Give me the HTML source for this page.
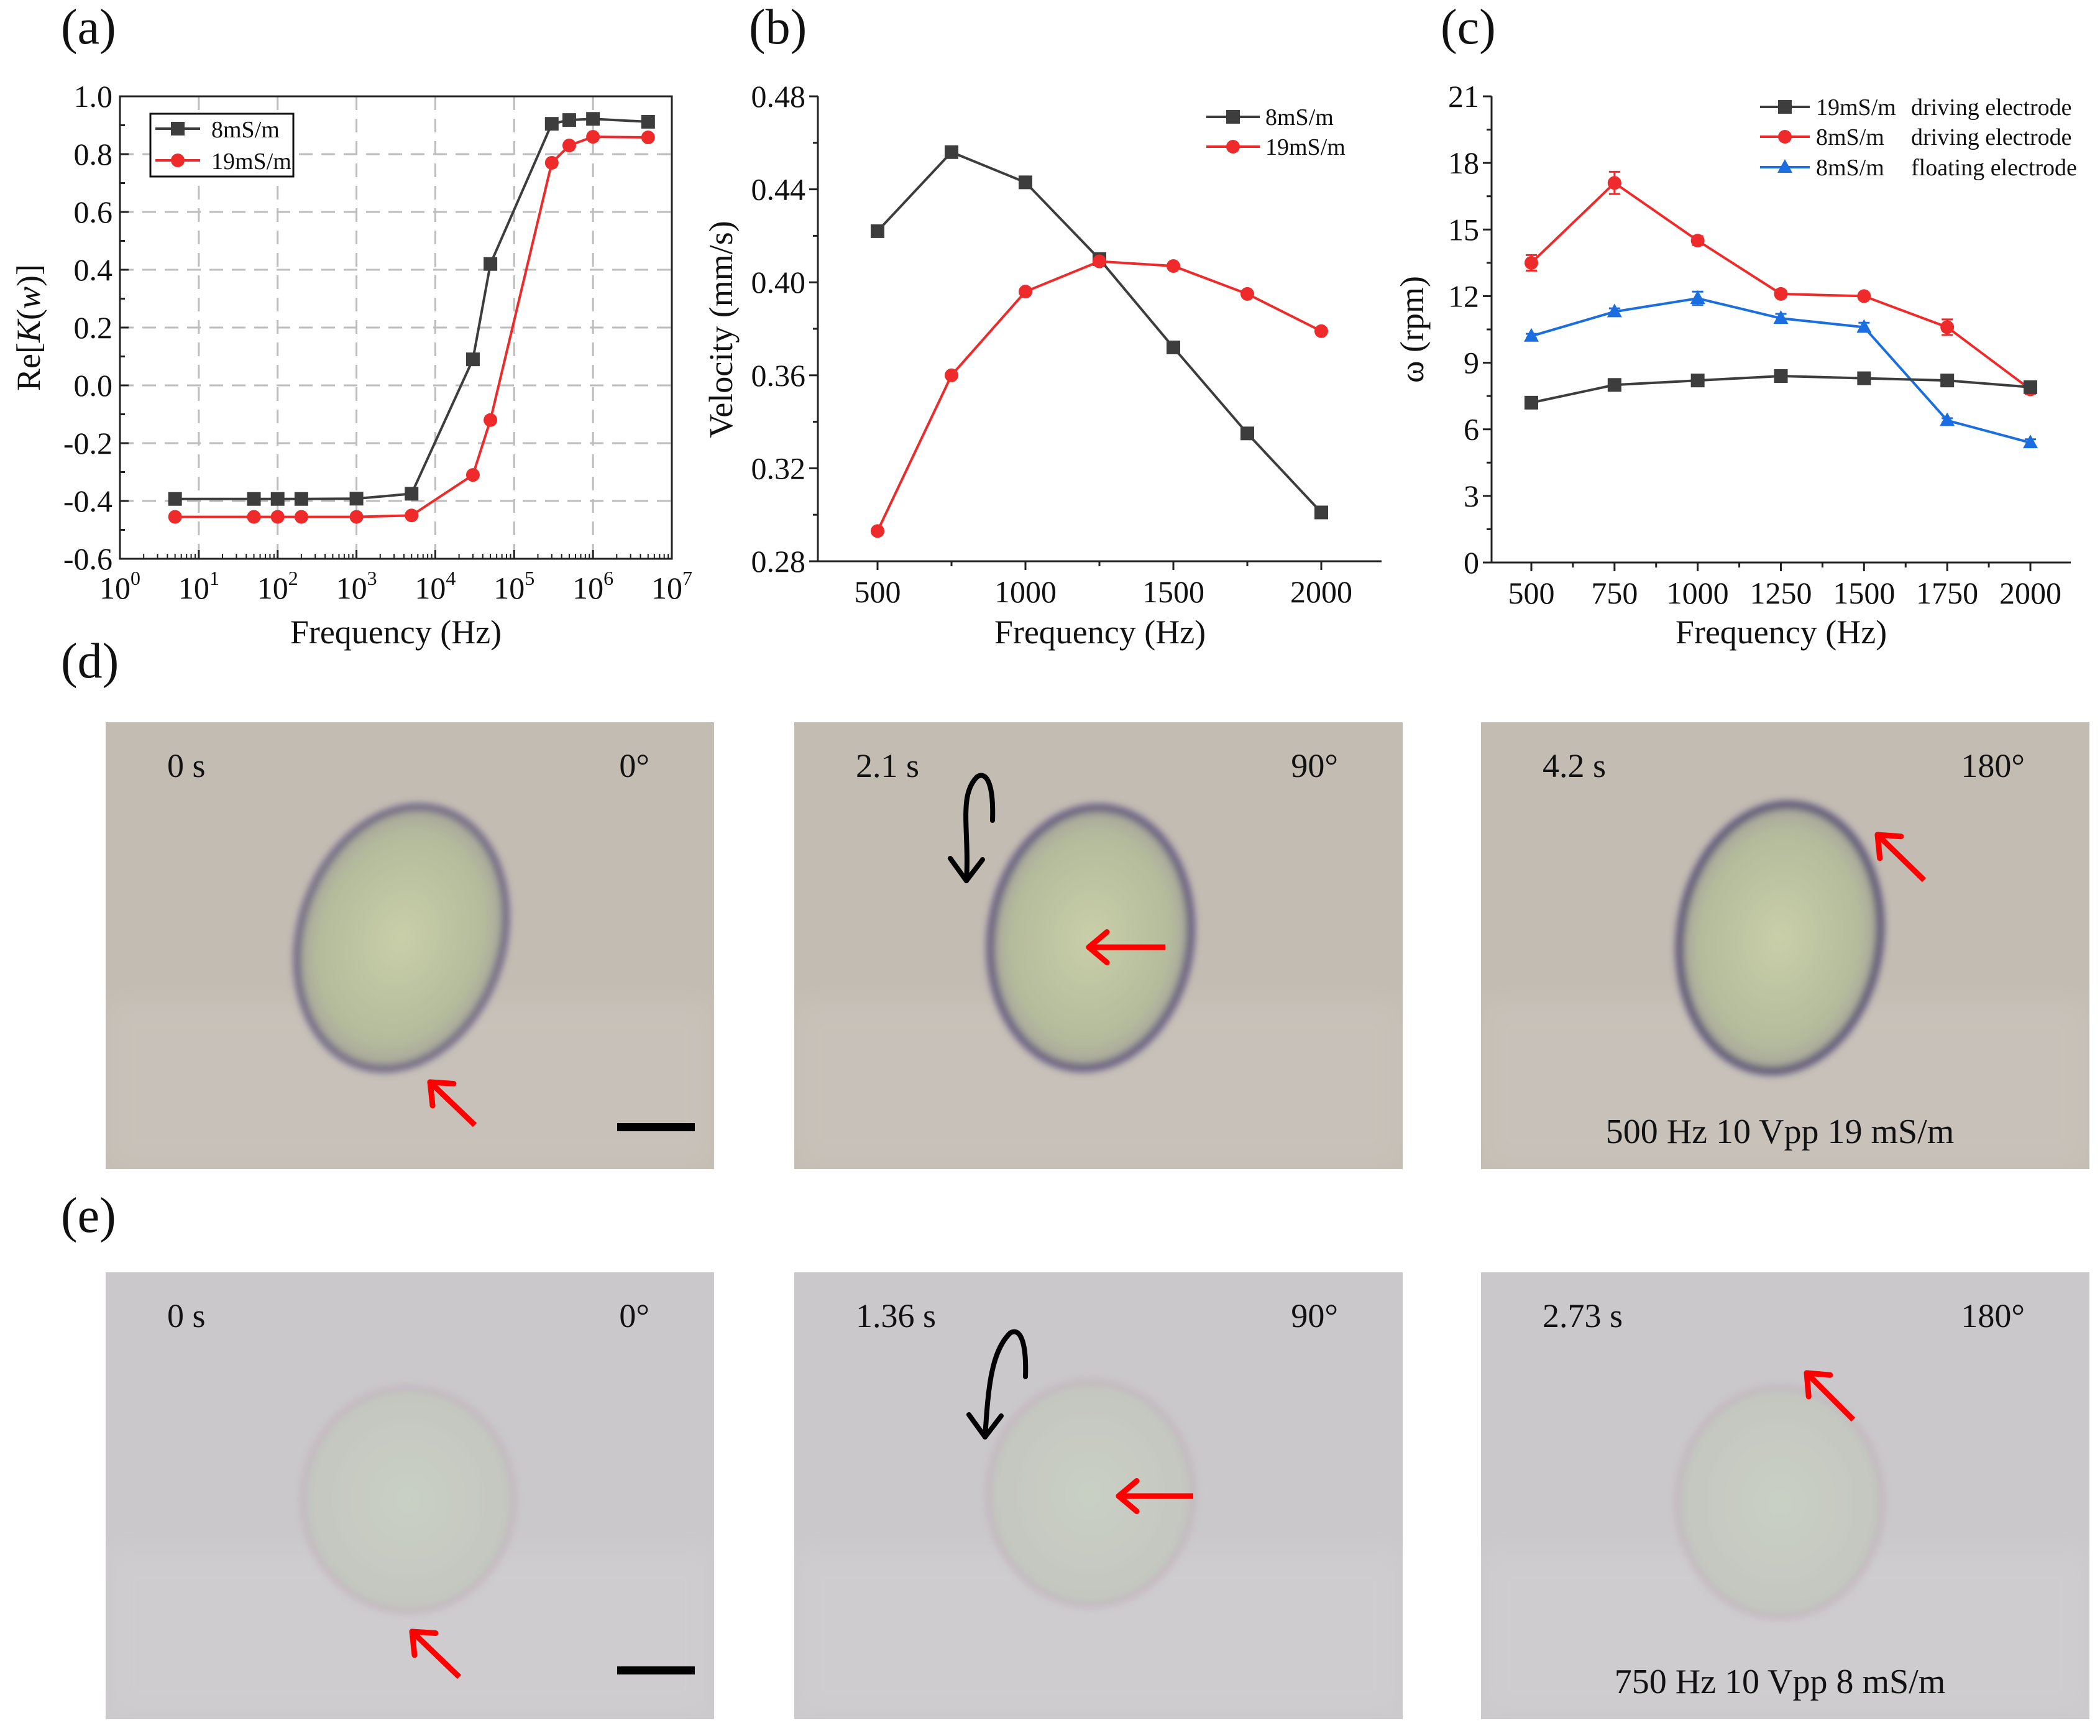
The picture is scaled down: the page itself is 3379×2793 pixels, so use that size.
<!DOCTYPE html>
<html><head><meta charset="utf-8"><style>
html,body{margin:0;padding:0;background:#fff;}
svg{display:block;font-family:"Liberation Serif","DejaVu Serif",serif;}
</style></head><body>
<svg id="fig" width="3379" height="2793" viewBox="0 0 3379 2793" xmlns="http://www.w3.org/2000/svg">
<defs>
<filter id="blur6" x="-30%" y="-30%" width="160%" height="160%"><feGaussianBlur stdDeviation="6"/></filter>
<filter id="blur20" x="-50%" y="-50%" width="200%" height="200%"><feGaussianBlur stdDeviation="20"/></filter>
<radialGradient id="cellD" cx="50%" cy="50%" r="50%"><stop offset="0" stop-color="#c9cfa8"/><stop offset="0.8" stop-color="#b4bb9c"/><stop offset="1" stop-color="#a8a49c"/></radialGradient>
<radialGradient id="cellE" cx="50%" cy="50%" r="50%"><stop offset="0" stop-color="#c9d0c4"/><stop offset="1" stop-color="#c4c6c0"/></radialGradient>
</defs>
<g id="charts"></g>
<g id="photos"></g>
</svg>
<script>
const NS="http://www.w3.org/2000/svg";
// ---------- data (a) ----------
const aFreq=[5,50,100,200,1000,5000,30000,50000,300000,500000,1000000,5000000];
const a8=[-0.393,-0.393,-0.393,-0.393,-0.392,-0.375,0.09,0.42,0.905,0.918,0.922,0.912];
const a19=[-0.455,-0.455,-0.455,-0.455,-0.455,-0.45,-0.31,-0.12,0.77,0.83,0.86,0.858];
const aYTicks=["1.0","0.8","0.6","0.4","0.2","0.0","-0.2","-0.4","-0.6"];
// ---------- data (b) ----------
const bFreq=[500,750,1000,1250,1500,1750,2000];
const b8=[0.422,0.456,0.443,0.410,0.372,0.335,0.301];
const b19=[0.293,0.360,0.396,0.409,0.407,0.395,0.379];
const bYTicks=["0.28","0.32","0.36","0.40","0.44","0.48"];
const bXTicks=[500,1000,1500,2000];
// ---------- data (c) ----------
const cFreq=[500,750,1000,1250,1500,1750,2000];
const c19drv=[7.2,8.0,8.2,8.4,8.3,8.2,7.9];
const c19err=[0.1,0.1,0.1,0.1,0.1,0.1,0.1];
const c8drv=[13.5,17.1,14.5,12.1,12.0,10.6,7.8];
const c8err=[0.35,0.5,0.2,0.15,0.1,0.35,0.2];
const c8flt=[10.2,11.3,11.9,11.0,10.6,6.4,5.4];
const c8fltErr=[0.1,0.15,0.3,0.2,0.2,0.1,0.15];
const cYTicks=[0,3,6,9,12,15,18,21];

const charts=document.getElementById('charts');
function el(tag,attrs,parent,txt){const e=document.createElementNS(NS,tag);for(const k in attrs)e.setAttribute(k,attrs[k]);if(txt!==undefined)e.textContent=txt;(parent||charts).appendChild(e);return e;}
function lineAttrs(x1,y1,x2,y2,c,w){return {x1:x1,y1:y1,x2:x2,y2:y2,stroke:c,'stroke-width':w};}
function marker(g,type,x,y,c){
  let m;
  if(type==='sq'){m=el('rect',{x:x-11,y:y-11,width:22,height:22,fill:c},g);}
  else if(type==='ci'){m=el('circle',{cx:x,cy:y,r:11,fill:c},g);}
  else {m=el('polygon',{points:`${x},${y-13} ${x+12},${y+9} ${x-12},${y+9}`,fill:c},g);}
  
  
}
function series(g,xs,ys,X,Y,c,type,errs){
  const pts=xs.map((v,i)=>X(v)+','+Y(ys[i])).join(' ');
  const pl=el('polyline',{points:pts,fill:'none',stroke:c,'stroke-width':4},g);
  
  
  xs.forEach((v,i)=>{
    if(errs){const y1=Y(ys[i]+errs[i]),y2=Y(ys[i]-errs[i]),x=X(v);
      el('line',lineAttrs(x,y1,x,y2,c,3),g);el('line',lineAttrs(x-9,y1,x+9,y1,c,3),g);el('line',lineAttrs(x-9,y2,x+9,y2,c,3),g);}
    marker(g,type,X(v),Y(ys[i]),c);
  });
}
const GREY='#3d3d3d',RED='#ee2a2a',BLUE='#1a6ee0';
const TF=50;

// ---------- Panel (a) ----------
(function(){
  const g=el('g',{});
  const L=193,R=1081,T=155,B=899;
  const X=f=>L+(Math.log10(f))/7*(R-L);
  const Y=v=>B-(v+0.6)/1.6*(B-T);
  for(let d=1;d<7;d++){el('line',Object.assign(lineAttrs(X(Math.pow(10,d)),T,X(Math.pow(10,d)),B,'#bdbdbd',3),{'stroke-dasharray':'22,14'}),g);}
  aYTicks.forEach(t=>{const v=parseFloat(t);if(v>-0.6&&v<1.0)el('line',Object.assign(lineAttrs(L,Y(v),R,Y(v),'#bdbdbd',3),{'stroke-dasharray':'22,14'}),g);});
  el('rect',{x:L,y:T,width:R-L,height:B-T,fill:'none',stroke:'#222','stroke-width':3},g);
  aYTicks.forEach(t=>{const v=parseFloat(t);el('line',lineAttrs(L,Y(v),L+14,Y(v),'#222',3),g);if(v<0.95)el('line',lineAttrs(L,Y(v+0.1),L+8,Y(v+0.1),'#222',3),g);
    const tx=el('text',{x:L-12,y:Y(v)+17,'font-size':TF,'text-anchor':'end',fill:'#111'},g,t);});
  for(let d=0;d<=7;d++){const x=X(Math.pow(10,d));el('line',lineAttrs(x,B,x,B-14,'#222',3),g);
    if(d<7)for(let k=2;k<10;k++){const xx=X(k*Math.pow(10,d));el('line',lineAttrs(xx,B,xx,B-8,'#222',2),g);}
    const tx=el('text',{x:x,y:B+64,'font-size':TF,'text-anchor':'middle',fill:'#111'},g);
    
    tx.appendChild(document.createTextNode('10'));el('tspan',{'font-size':32,dy:-22},tx,String(d));}
  series(g,aFreq,a8,X,v=>Y(v),GREY,'sq');
  series(g,aFreq,a19,X,v=>Y(v),RED,'ci');
  const lg=el('g',{},g);
  el('rect',{x:242,y:183,width:230,height:101,fill:'#fff',stroke:'#111','stroke-width':3},lg);
  el('line',lineAttrs(250,207,322,207,GREY,4),lg);marker(lg,'sq',286,207,GREY);
  el('text',{x:340,y:221,'font-size':38,fill:'#111'},lg,'8mS/m');
  el('line',lineAttrs(250,258,322,258,RED,4),lg);marker(lg,'ci',286,258,RED);
  el('text',{x:340,y:272,'font-size':38,fill:'#111'},lg,'19mS/m');
  const xt=el('text',{x:637,y:1035,'font-size':54,'text-anchor':'middle',fill:'#111'},g,'Frequency (Hz)');
  const yt=el('text',{transform:'translate(64,527) rotate(-90)','font-size':54,'text-anchor':'middle',fill:'#111'},g);
  
  yt.appendChild(document.createTextNode('Re['));el('tspan',{'font-style':'italic'},yt,'K');yt.appendChild(document.createTextNode('('));el('tspan',{'font-style':'italic'},yt,'w');yt.appendChild(document.createTextNode(')]'));
  const pl=el('text',{x:98,y:70,'font-size':80,fill:'#111'},g,'(a)');
})();

// ---------- Panel (b) ----------
(function(){
  const g=el('g',{});
  const L=1316,R=2223,T=155,B=903;
  const X=f=>1412+(f-500)/1500*(2126-1412);
  const Y=v=>B-(v-0.28)/0.2*(B-T);
  el('line',lineAttrs(L,T,L,B,'#222',3),g);el('line',lineAttrs(L,B,R,B,'#222',3),g);
  bYTicks.forEach(t=>{const v=parseFloat(t);el('line',lineAttrs(L,Y(v),L-14,Y(v),'#222',3),g);if(v<0.47)el('line',lineAttrs(L,Y(v+0.02),L-8,Y(v+0.02),'#222',3),g);
    const tx=el('text',{x:L-20,y:Y(v)+17,'font-size':TF,'text-anchor':'end',fill:'#111'},g,t);});
  for(let f=500;f<=2000;f+=250){el('line',lineAttrs(X(f),B,X(f),B+(f%500===0?14:8),'#222',3),g);}
  bXTicks.forEach(f=>{const tx=el('text',{x:X(f),y:B+66,'font-size':TF,'text-anchor':'middle',fill:'#111'},g,String(f));});
  series(g,bFreq,b8,X,Y,GREY,'sq');
  series(g,bFreq,b19,X,Y,RED,'ci');
  const lg=el('g',{},g);
  el('line',lineAttrs(1941,188,2027,188,GREY,4),lg);marker(lg,'sq',1984,188,GREY);el('text',{x:2036,y:201,'font-size':38,fill:'#111'},lg,'8mS/m');
  el('line',lineAttrs(1941,236,2027,236,RED,4),lg);marker(lg,'ci',1984,236,RED);el('text',{x:2036,y:249,'font-size':38,fill:'#111'},lg,'19mS/m');
  const xt=el('text',{x:1770,y:1035,'font-size':54,'text-anchor':'middle',fill:'#111'},g,'Frequency (Hz)');
  const yt=el('text',{transform:'translate(1178,530) rotate(-90)','font-size':54,'text-anchor':'middle',fill:'#111'},g,'Velocity (mm/s)');
  const pl=el('text',{x:1205,y:70,'font-size':80,fill:'#111'},g,'(b)');
})();

// ---------- Panel (c) ----------
(function(){
  const g=el('g',{});
  const L=2400,R=3332,T=155,B=905;
  const X=f=>2464+(f-500)/1500*(3267-2464);
  const Y=v=>B-v/21*(B-T);
  el('line',lineAttrs(L,T,L,B,'#222',3),g);el('line',lineAttrs(L,B,R,B,'#222',3),g);
  cYTicks.forEach(v=>{el('line',lineAttrs(L,Y(v),L-14,Y(v),'#222',3),g);if(v<21)el('line',lineAttrs(L,Y(v+1.5),L-8,Y(v+1.5),'#222',3),g);
    const tx=el('text',{x:L-20,y:Y(v)+17,'font-size':TF,'text-anchor':'end',fill:'#111'},g,String(v));});
  for(let f=500;f<=2000;f+=125){el('line',lineAttrs(X(f),B,X(f),B+(f%250===0?14:8),'#222',3),g);}
  cFreq.forEach(f=>{const tx=el('text',{x:X(f),y:B+66,'font-size':TF,'text-anchor':'middle',fill:'#111'},g,String(f));});
  series(g,cFreq,c8drv,X,Y,RED,'ci',c8err);
  series(g,cFreq,c8flt,X,Y,BLUE,'tri',c8fltErr);
  series(g,cFreq,c19drv,X,Y,GREY,'sq',c19err);
  const lg=el('g',{},g);
  const items=[[GREY,'sq','19mS/m','driving electrode',172],[RED,'ci','8mS/m','driving electrode',220],[BLUE,'tri','8mS/m','floating electrode',269]];
  items.forEach(it=>{el('line',lineAttrs(2832,it[4],2912,it[4],it[0],4),lg);marker(lg,it[1],2872,it[4],it[0]);
    el('text',{x:2922,y:it[4]+13,'font-size':38,fill:'#111'},lg,it[2]);
    el('text',{x:3075,y:it[4]+13,'font-size':38,fill:'#111'},lg,it[3]);});
  const xt=el('text',{x:2866,y:1035,'font-size':54,'text-anchor':'middle',fill:'#111'},g,'Frequency (Hz)');
  const yt=el('text',{transform:'translate(2290,530) rotate(-90)','font-size':54,'text-anchor':'middle',fill:'#111'},g,'ω (rpm)');
  const pl=el('text',{x:2318,y:70,'font-size':80,fill:'#111'},g,'(c)');
})();

// ---------- Photos (d),(e) ----------
const photos=document.getElementById('photos');
const colX=[170,1278,2383];
const rowD=1162,rowE=2047,PW=979,PH=719;
function photo(x0,y0,bg,cell,outline,rx,ry,cx,cy,tl,tr,rot,opts){
  const g=el('g',{transform:`translate(${x0},${y0})`},photos);
  
  el('rect',{x:0,y:0,width:PW,height:PH,fill:bg},g);
  el('rect',{x:0,y:PH*0.62,width:PW,height:PH*0.38,fill:'#ffffff',opacity:0.08,filter:'url(#blur20)'},g);
  el('ellipse',{cx:cx,cy:cy,rx:rx,ry:ry,fill:cell,stroke:outline,'stroke-width':opts.sw,transform:`rotate(${rot} ${cx} ${cy})`,filter:'url(#blur6)'},g);
  let t=el('text',{x:99,y:88,'font-size':54,fill:'#111'},g,tl);
  t=el('text',{x:875,y:88,'font-size':54,fill:'#111','text-anchor':'end'},g,tr);
  if(opts.arrow){const a=opts.arrow;const ar=el('g',{},g);
    el('line',lineAttrs(a[2],a[3],a[0],a[1],'#ff0000',9),ar);
    const ang=Math.atan2(a[3]-a[1],a[2]-a[0]);const hl=38;
    [0.7,-0.7].forEach(d=>el('line',Object.assign(lineAttrs(a[0],a[1],a[0]+hl*Math.cos(ang+d),a[1]+hl*Math.sin(ang+d),'#ff0000',9),{'stroke-linecap':'round'}),ar));}
  if(opts.curve){const c=opts.curve;const cg=el('g',{},g);
    el('path',{d:`M${c[0]},${c[1]} C${c[0]+2},${c[1]-60} ${c[0]-10},${c[1]-80} ${c[0]-25},${c[1]-70} C${c[0]-55},${c[1]-40} ${c[2]+5},${c[3]-80} ${c[2]},${c[3]}`,fill:'none',stroke:'#000','stroke-width':8,'stroke-linecap':'round'},cg);
    el('polyline',{points:`${c[2]-26},${c[3]-36} ${c[2]},${c[3]} ${c[2]+26},${c[3]-34}`,fill:'none',stroke:'#000','stroke-width':8,'stroke-linecap':'round','stroke-linejoin':'round'},cg);}
  if(opts.bar){const b=el('rect',{x:823,y:opts.bar-6,width:125,height:13,fill:'#000'},g);}
  if(opts.caption){const c=el('text',{x:481,y:677,'font-size':56,fill:'#111','text-anchor':'middle'},g,opts.caption);}
}
const BGD='#c3bcb3',BGE='#cac8ca';
photo(colX[0],rowD,BGD,'url(#cellD)','#5a4f7a',162,215,476,347,'0 s','0°',18,{sw:10,arrow:[522,579,594,648],bar:651});
photo(colX[1],rowD,BGD,'url(#cellD)','#5a4f7a',160,210,477,347,'2.1 s','90°',8,{sw:12,arrow:[474,362,597,362],curve:[319,158,277,255]});
photo(colX[2],rowD,BGD,'url(#cellD)','#4e4470',160,215,481,347,'4.2 s','180°',8,{sw:12,arrow:[638,181,713,254],caption:'500 Hz 10 Vpp 19 mS/m'});
photo(colX[0],rowE,BGE,'url(#cellE)','#c0a8bc',170,180,487,366,'0 s','0°',0,{sw:5,arrow:[493,578,569,651],bar:640});
photo(colX[1],rowE,BGE,'url(#cellE)','#c0a8bc',165,180,477,356,'1.36 s','90°',0,{sw:5,arrow:[522,360,642,360],curve:[372,168,307,265]});
photo(colX[2],rowE,BGE,'url(#cellE)','#c0a8bc',165,185,481,370,'2.73 s','180°',0,{sw:5,arrow:[524,162,599,237],caption:'750 Hz 10 Vpp 8 mS/m'});
let pd=el('text',{x:98,y:1090,'font-size':80,fill:'#111'},photos,'(d)');
let pe=el('text',{x:98,y:1982,'font-size':80,fill:'#111'},photos,'(e)');
</script>
</body></html>
